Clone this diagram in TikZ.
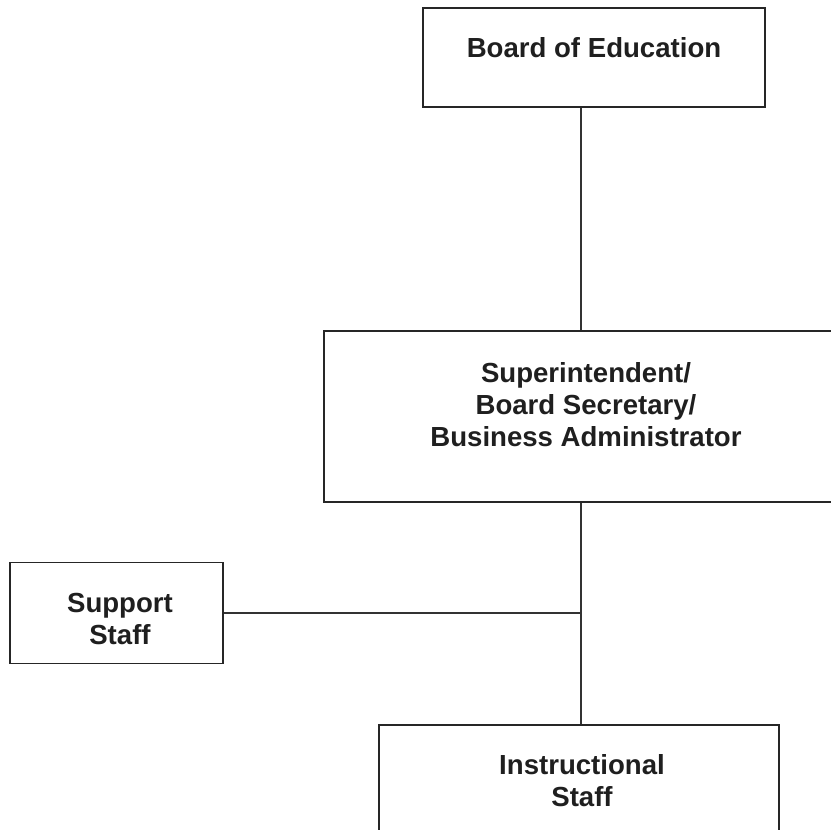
\documentclass[tikz,border=0pt]{standalone}
\usepackage{fontspec}
\setmainfont{Liberation Sans}
\usetikzlibrary{positioning}

\tikzset{
  box/.style={draw=black!85, line width=0.8pt, inner sep=0pt},
  lbl/.style={font=\fontsize{15.7}{18.2}\selectfont\bfseries, text=black!88, align=center},
  wire/.style={draw=black!80, line width=0.8pt}
}

\begin{document}
\begin{tikzpicture}[x=0.2mm,y=-0.2mm]
\useasboundingbox (0,0) rectangle (831,829);
%\draw[step=50,help lines](0,0)grid(831,829);
    \node[box, line width=1.1pt, minimum width=68.4mm, minimum height=19.8mm] (board) at (594,57.5) {};
    \node[lbl] (boardtxt) at (594,48) {Board of Education};
    \node[box, minimum width=104.8mm, minimum height=34.2mm] (super) at (586,416.5) {};
    \node[lbl] (supertxt) at (586,405) {Superintendent/\\Board Secretary/\\Business Administrator};
    \node[box, minimum width=42.6mm, minimum height=20.2mm] (support) at (116.5,613) {};
    \node[lbl] (supporttxt) at (120,619) {Support\\Staff};
    \node[box, minimum width=80mm, minimum height=32mm] (instr) at (579,805) {};
    \node[lbl] (instrtxt) at (582,781) {Instructional\\Staff};
    % connectors
    \coordinate (spine) at (581,0);
    \draw[wire] (board.south -| spine) -- (super.north -| spine);
    \draw[wire] (super.south -| spine) -- (instr.north -| spine);
    \draw[wire] (support.east) -- (support.east -| spine);
\end{tikzpicture}
\end{document}
